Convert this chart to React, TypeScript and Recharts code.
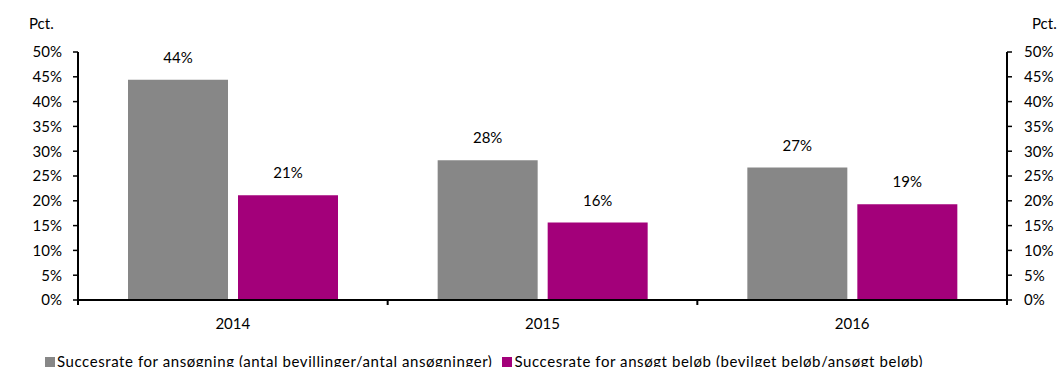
import React from 'react';
import { ComposedChart, Bar, Line, XAxis, YAxis, Legend, LabelList, Label } from 'recharts';

const years = ['2014', '2015', '2016'];
const applicationRate = [44.4, 28.2, 26.7];
const amountRate = [21.1, 15.6, 19.3];
const pctTicks = [0, 5, 10, 15, 20, 25, 30, 35, 40, 45, 50];

const seriesNames = {
  applicationRate: 'Succesrate for ansøgning (antal bevillinger/antal ansøgninger)',
  amountRate: 'Succesrate for ansøgt beløb (bevilget beløb/ansøgt beløb)',
};

const GREY = '#878787';
const PURPLE = '#A3007A';
const FONT = 'Lato, sans-serif';

const WIDTH = 1059;
const HEIGHT = 367;
const LEFT_AXIS_W = 78;
const RIGHT_AXIS_W = 52;
const PLOT_W = WIDTH - LEFT_AXIS_W - RIGHT_AXIS_W;

const data = years.map((year, i) => ({
  year,
  applicationRate: applicationRate[i],
  amountRate: amountRate[i],
}));

const pct = (v: number) => `${v}%`;
const pctLabel = (v: any) => `${Math.round(Number(v))}%`;

// category labels sit in the middle, tick marks sit on the category boundaries
const YearTick = (props: any) => {
  const { x, y, payload, index } = props;
  const half = PLOT_W / years.length / 2;
  const last = index === years.length - 1;
  return (
    <g>
      <line x1={x - half} x2={x - half} y1={y} y2={y + 5} stroke="#000" strokeWidth={2} />
      {last && <line x1={x + half} x2={x + half} y1={y} y2={y + 5} stroke="#000" strokeWidth={2} />}
      <text x={x} y={y + 29} textAnchor="middle" fill="#000" fontSize={15} fontFamily={FONT}>
        {payload.value}
      </text>
    </g>
  );
};

const unitLabel = (dx: number) => (props: any) => {
  const { viewBox } = props;
  return (
    <text x={viewBox.x + dx} y={viewBox.y - 23} fill="#000" fontSize={15} fontFamily={FONT}>
      Pct.
    </text>
  );
};

const LegendContent = () => (
  <div
    style={{
      display: 'flex',
      fontFamily: FONT,
      fontSize: 15,
      letterSpacing: 0.57,
      color: '#000',
      whiteSpace: 'nowrap',
      lineHeight: '15px',
    }}
  >
    {[
      { name: seriesNames.applicationRate, color: GREY },
      { name: seriesNames.amountRate, color: PURPLE },
    ].map((item) => (
      <div key={item.name} style={{ display: 'flex', alignItems: 'flex-end', marginRight: 10 }}>
        <span style={{ width: 10, height: 10, background: item.color, marginRight: 2, marginBottom: 2 }} />
        <span>{item.name}</span>
      </div>
    ))}
  </div>
);

export default function App() {
  const axisTick = { fill: '#000', fontSize: 15, fontFamily: FONT };
  return (
    <div style={{ position: 'absolute', left: 0, top: 0, width: WIDTH, height: HEIGHT, background: '#fff' }}>
      <ComposedChart
        width={WIDTH}
        height={HEIGHT}
        data={data}
        margin={{ top: 52, right: 0, bottom: 0, left: 0 }}
        barGap={10}
      >
        <XAxis
          dataKey="year"
          height={67}
          tickLine={false}
          tickSize={0}
          tickMargin={0}
          axisLine={{ stroke: '#000', strokeWidth: 2 }}
          tick={<YearTick />}
          interval={0}
        />
        <YAxis
          yAxisId="left"
          width={LEFT_AXIS_W}
          domain={[0, 50]}
          ticks={pctTicks}
          tickFormatter={pct}
          tickSize={5}
          tickMargin={11}
          tick={axisTick}
          axisLine={{ stroke: '#000', strokeWidth: 2 }}
          tickLine={{ stroke: '#000', strokeWidth: 1.5 }}
        >
          <Label content={unitLabel(29)} />
        </YAxis>
        <YAxis
          yAxisId="right"
          orientation="right"
          width={RIGHT_AXIS_W}
          domain={[0, 50]}
          ticks={pctTicks}
          tickFormatter={pct}
          tickSize={5}
          tickMargin={12}
          tick={axisTick}
          axisLine={{ stroke: '#000', strokeWidth: 2 }}
          tickLine={{ stroke: '#000', strokeWidth: 1.5 }}
        >
          <Label content={unitLabel(25)} />
        </YAxis>
        <Legend
          verticalAlign="middle"
          align="center"
          content={<LegendContent />}
          wrapperStyle={{ left: 45, top: 354, width: 'auto', height: 'auto' }}
        />
        <Bar
          yAxisId="left"
          dataKey="applicationRate"
          name={seriesNames.applicationRate}
          fill={GREY}
          barSize={100}
          isAnimationActive={false}
        >
          <LabelList dataKey="applicationRate" position="top" offset={17} formatter={pctLabel} fill="#000" fontSize={15} fontFamily={FONT} />
        </Bar>
        <Bar
          yAxisId="left"
          dataKey="amountRate"
          name={seriesNames.amountRate}
          fill={PURPLE}
          barSize={100}
          isAnimationActive={false}
        >
          <LabelList dataKey="amountRate" position="top" offset={17} formatter={pctLabel} fill="#000" fontSize={15} fontFamily={FONT} />
        </Bar>
        {/* the mirrored right axis needs a series bound to it; this one draws nothing */}
        <Line
          yAxisId="right"
          dataKey="applicationRate"
          stroke="none"
          dot={false}
          activeDot={false}
          legendType="none"
          isAnimationActive={false}
        />
      </ComposedChart>
    </div>
  );
}
